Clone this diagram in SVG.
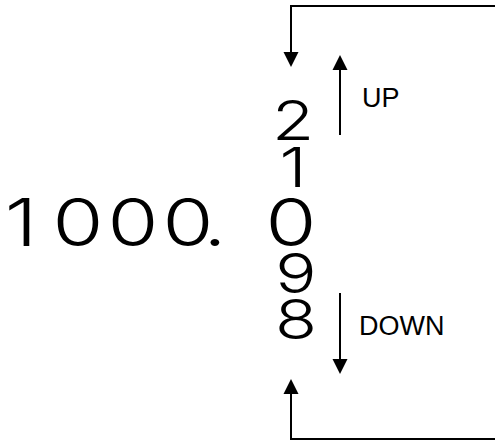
<svg xmlns="http://www.w3.org/2000/svg" width="495" height="441" viewBox="0 0 495 441">
<style>
.num{font-family:Inter,"Noto Sans","DejaVu Sans",sans-serif;font-weight:300;fill:#000;text-anchor:middle}
.lbl{font-family:"Liberation Sans",Arial,sans-serif;font-size:27px;fill:#000}
.ln{fill:none;stroke:#000;stroke-width:2}
.hd{fill:#000;stroke:none}
</style>
<rect width="495" height="441" fill="#fff"/>
<g id="number" transform="scale(1.25 1)">
<text class="num" font-size="66" x="16.8 62.4 106.4 150.4 172" y="246">1000.</text>
<text class="num" font-size="66" x="232.8" y="246">0</text>
</g>
<g id="digits" transform="scale(1.25 1)">
<text class="num" font-size="55" x="234.4" y="140">2</text>
<text class="num" font-size="55" x="234.4" y="187">1</text>
<text class="num" font-size="55" x="236.8" y="293">9</text>
<text class="num" font-size="55" x="236.8" y="339">8</text>
</g>
<g id="label-up"><text class="lbl" x="362" y="107">UP</text></g>
<g id="label-down"><text class="lbl" x="359" y="335">DOWN</text></g>
<g id="connectors">
<path class="ln" d="M495 6H291V54"/>
<polygon class="hd" points="283.5,52 298.5,52 291,67"/>
<path class="ln" d="M340 135V68"/>
<polygon class="hd" points="332.5,70 347.5,70 340,55"/>
<path class="ln" d="M340 293V361"/>
<polygon class="hd" points="332.5,359 347.5,359 340,374"/>
<path class="ln" d="M495 439H291V392"/>
<polygon class="hd" points="283.5,394 298.5,394 291,379"/>
</g>
</svg>
